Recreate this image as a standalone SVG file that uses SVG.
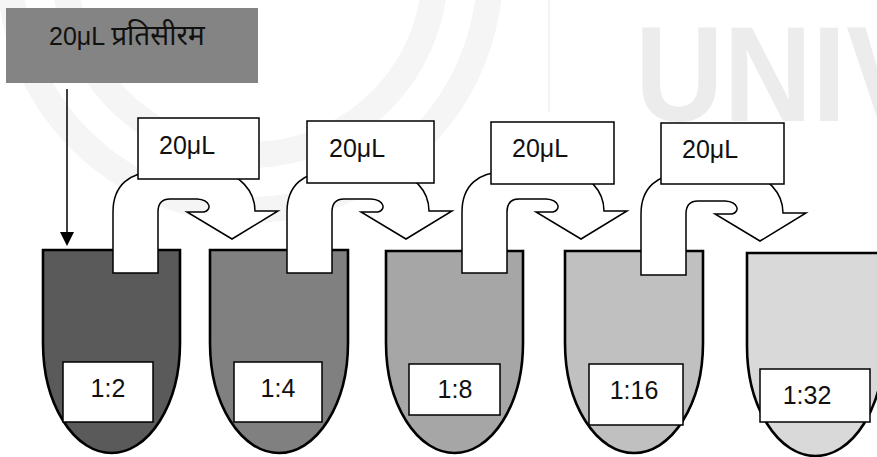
<svg xmlns="http://www.w3.org/2000/svg" width="877" height="457" viewBox="0 0 877 457">
<style>
.wm{fill:none;stroke:#f5f5f5}
.tube{stroke:#000;stroke-width:2.6}
.box{fill:#fff;stroke:#000;stroke-width:1.5}
.arr{fill:#fff;stroke:#000;stroke-width:1.5;stroke-linejoin:miter}
.t{font-family:"Liberation Sans",Arial,"Noto Sans","Noto Sans Devanagari",sans-serif;font-size:25px;fill:#111}
</style>
<defs>
<path id="uarrow" d="M0,63 V2 C0,-25 17,-38 42,-38 L102,-38 C127,-38 142,-18 142,1 L165,1 L119,29 L74,2 L91,2 C99,0 98,-10 84,-11 L57,-11 C49,-11 45,-6 45,2 V63 Z"/>
</defs>
<rect width="877" height="457" fill="#fff"/>
<g id="watermark">
<circle class="wm" cx="250" cy="-30" r="185" stroke-width="26"/>
<circle class="wm" cx="250" cy="-30" r="240" stroke-width="26"/>
<line x1="549" y1="0" x2="549" y2="112" stroke="#e8e8e8" stroke-width="1"/>
<text x="635" y="121" font-family="'Liberation Sans',Arial,sans-serif" font-weight="bold" font-size="136" fill="#ececec" textLength="293" lengthAdjust="spacingAndGlyphs">UNIV</text>
</g>
<g id="source">
<rect x="6" y="8" width="252" height="75" fill="#808080" fill-opacity="0.97"/>
<text class="t" x="49" y="45">20μL <tspan font-size="28">प्रतिसीरम</tspan></text>
</g>
<g id="tube1">
<path class="tube" fill="#5a5a5a" d="M43,250 V343 A68.5,110 0 0 0 180,343 V250 Z"/>
</g>
<g id="tube2">
<path class="tube" fill="#808080" d="M210,250 V343 A69,110 0 0 0 348,343 V250 Z"/>
</g>
<g id="tube3">
<path class="tube" fill="#a6a6a6" d="M386,251 V343 A68.5,110 0 0 0 523,343 V251 Z"/>
</g>
<g id="tube4">
<path class="tube" fill="#c0c0c0" d="M565,251 V343 A69,110 0 0 0 703,343 V251 Z"/>
</g>
<g id="tube5">
<path class="tube" fill="#d9d9d9" d="M747,253 V346 A68.5,110 0 0 0 884,346 V253 Z"/>
</g>
<g id="connectors">
<line x1="67" y1="89" x2="67" y2="234" stroke="#000" stroke-width="1.5"/>
<polygon points="60,232 74,232 67,246" fill="#000"/>
<use href="#uarrow" class="arr" transform="translate(113,210)"/>
<use href="#uarrow" class="arr" transform="translate(287,210)"/>
<use href="#uarrow" class="arr" transform="translate(462,210)"/>
<use href="#uarrow" class="arr" transform="translate(641,212)"/>
</g>
<g id="vol1"><rect class="box" x="138" y="118" width="121" height="61"/><text class="t" x="159" y="154">20μL</text></g>
<g id="vol2"><rect class="box" x="307" y="121" width="127" height="62"/><text class="t" x="329" y="157">20μL</text></g>
<g id="vol3"><rect class="box" x="491" y="122" width="123" height="62"/><text class="t" x="512" y="157">20μL</text></g>
<g id="vol4"><rect class="box" x="661" y="123" width="123" height="61"/><text class="t" x="682" y="158">20μL</text></g>
<g id="label1"><rect class="box" x="63" y="362" width="90" height="60"/><text class="t" x="108" y="397" text-anchor="middle">1:2</text></g>
<g id="label2"><rect class="box" x="234" y="362" width="88" height="60"/><text class="t" x="278" y="397" text-anchor="middle">1:4</text></g>
<g id="label3"><rect class="box" x="409" y="364" width="91" height="51"/><text class="t" x="455" y="398" text-anchor="middle">1:8</text></g>
<g id="label4"><rect class="box" x="589" y="364" width="94" height="61"/><text class="t" x="634" y="399" text-anchor="middle">1:16</text></g>
<g id="label5"><rect class="box" x="760" y="369" width="110" height="53"/><text class="t" x="807" y="404" text-anchor="middle">1:32</text></g>
</svg>
